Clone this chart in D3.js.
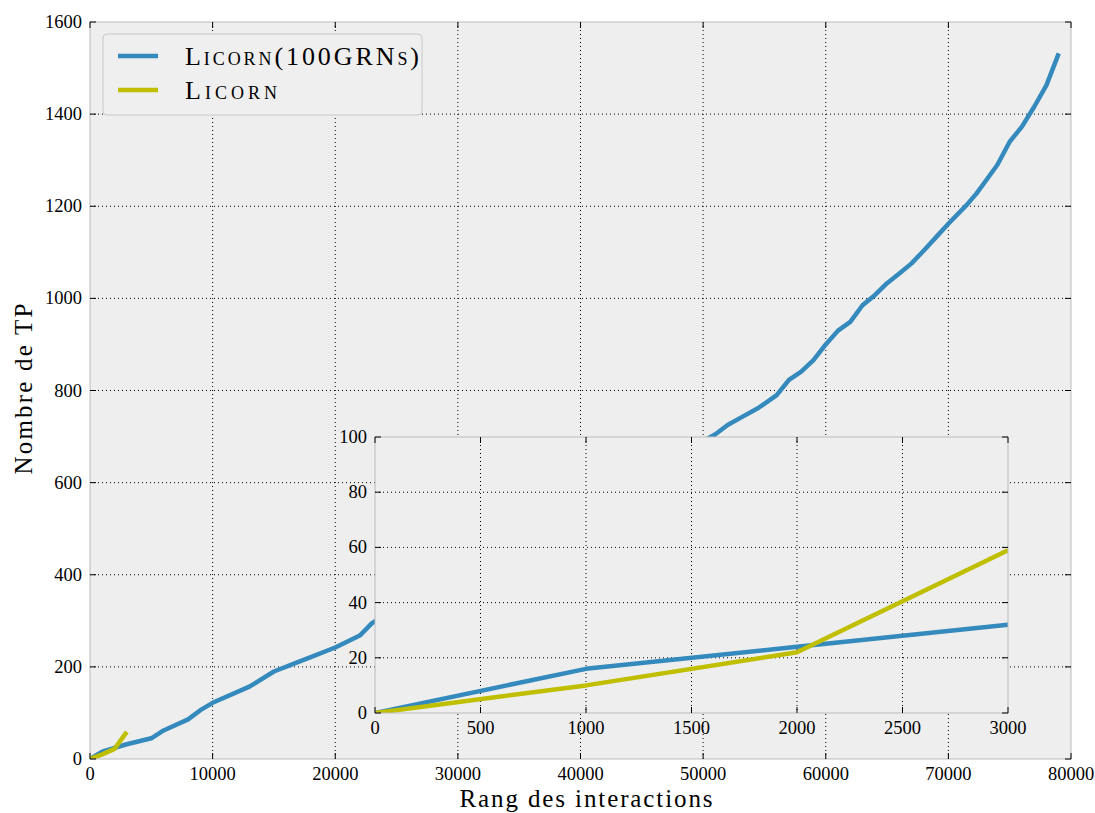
<!DOCTYPE html>
<html>
<head>
<meta charset="utf-8">
<script src="https://cdn.jsdelivr.net/npm/d3@7"></script>
<style>
  body { margin: 0; background: #fff; }
  text { font-family: "Liberation Serif", "DejaVu Serif", serif; fill: #000; }
</style>
</head>
<body>
<div id="chart"></div>
<script>
// Licorn(100GRNs) - rank of interaction vs true positives
const blueX = [0, 1000, 2000, 3000, 5000, 6000, 8000, 9000, 10000, 13000, 15000, 17000, 18000, 20000, 22000, 23000,
  30000, 40000, 50000, 51000, 52000, 53000, 54500, 56000, 57000, 58000, 59000, 60000, 61000, 62000, 63000, 64000,
  65000, 66000, 67000, 68000, 69000, 70000, 71500, 72300, 73100, 74000, 75000, 76000, 77000, 78000, 79000];
const blueY = [0, 16, 24, 32, 45, 62, 86, 106, 122, 157, 190, 211, 221, 242, 268, 295,
  410, 550, 690, 705, 725, 740, 762, 790, 823, 841, 866, 900, 930, 949, 985, 1007,
  1033, 1054, 1076, 1104, 1133, 1162, 1203, 1228, 1257, 1290, 1340, 1373, 1416, 1463, 1532];
// Licorn
const yellowX = [0, 1000, 2000, 3000];
const yellowY = [0, 10, 22, 59];

const mainXTicks = [0, 10000, 20000, 30000, 40000, 50000, 60000, 70000, 80000];
const mainYTicks = [0, 200, 400, 600, 800, 1000, 1200, 1400, 1600];
const insetXTicks = [0, 500, 1000, 1500, 2000, 2500, 3000];
const insetYTicks = [0, 20, 40, 60, 80, 100];

const seriesNames = ["Licorn(100GRNs)", "Licorn"];
const seriesColors = ["#348abd", "#bfbf00"];
const legendWidths = [234, 92];

const W = 1095, H = 813;
const svg = d3.select("#chart").append("svg").attr("width", W).attr("height", H);

const blue = blueX.map((x, i) => [x, blueY[i]]);
const yellow = yellowX.map((x, i) => [x, yellowY[i]]);

function panel(g, x, y, xTicks, yTicks) {
  const [x0, x1] = x.range(), [y1, y0] = y.range();
  g.append("rect").attr("x", x0).attr("y", y0).attr("width", x1 - x0).attr("height", y1 - y0)
    .attr("fill", "#eeeeee");
  // dotted grid
  g.append("g").selectAll("line").data(xTicks.slice(1, -1)).join("line")
    .attr("x1", d => x(d)).attr("x2", d => x(d)).attr("y1", y0).attr("y2", y1)
    .attr("stroke", "#000").attr("stroke-dasharray", "1,3").attr("stroke-width", 1);
  g.append("g").selectAll("line").data(yTicks.slice(1, -1)).join("line")
    .attr("y1", d => y(d)).attr("y2", d => y(d)).attr("x1", x0).attr("x2", x1)
    .attr("stroke", "#000").attr("stroke-dasharray", "1,3").attr("stroke-width", 1);
}

function frame(g, x, y, xTicks, yTicks) {
  const [x0, x1] = x.range(), [y1, y0] = y.range();
  g.append("rect").attr("x", x0).attr("y", y0).attr("width", x1 - x0).attr("height", y1 - y0)
    .attr("fill", "none").attr("stroke", "#bcbcbc").attr("stroke-width", 1);
  const t = 6;
  const tk = g.append("g").attr("stroke", "#000").attr("stroke-width", 1);
  xTicks.forEach(d => {
    tk.append("line").attr("x1", x(d)).attr("x2", x(d)).attr("y1", y1).attr("y2", y1 - t);
    tk.append("line").attr("x1", x(d)).attr("x2", x(d)).attr("y1", y0).attr("y2", y0 + t);
  });
  yTicks.forEach(d => {
    tk.append("line").attr("y1", y(d)).attr("y2", y(d)).attr("x1", x0).attr("x2", x0 + t);
    tk.append("line").attr("y1", y(d)).attr("y2", y(d)).attr("x1", x1).attr("x2", x1 - t);
  });
  g.append("g").selectAll("text").data(xTicks).join("text")
    .attr("x", d => x(d)).attr("y", y1 + 21).attr("text-anchor", "middle")
    .attr("font-size", 18.5).text(d => d);
  g.append("g").selectAll("text").data(yTicks).join("text")
    .attr("x", x0 - 8).attr("y", d => y(d) + 6).attr("text-anchor", "end")
    .attr("font-size", 18.5).text(d => d);
}

function lines(g, x, y, clipId) {
  const line = d3.line().x(d => x(d[0])).y(d => y(d[1]));
  const [x0, x1] = x.range(), [y1, y0] = y.range();
  svg.append("clipPath").attr("id", clipId).append("rect")
    .attr("x", x0).attr("y", y0).attr("width", x1 - x0).attr("height", y1 - y0);
  const lg = g.append("g").attr("clip-path", `url(#${clipId})`);
  [blue, yellow].forEach((s, i) => {
    lg.append("path").datum(s).attr("d", line).attr("fill", "none")
      .attr("stroke", seriesColors[i]).attr("stroke-width", 4.5).attr("stroke-linejoin", "round");
  });
}

// main axes
const x = d3.scaleLinear().domain([0, 80000]).range([90, 1071]);
const y = d3.scaleLinear().domain([0, 1600]).range([759, 22]);
const gm = svg.append("g");
panel(gm, x, y, mainXTicks, mainYTicks);
lines(gm, x, y, "clipMain");
frame(gm, x, y, mainXTicks, mainYTicks);

svg.append("text").attr("x", 586).attr("y", 807).attr("text-anchor", "middle")
  .attr("font-size", 25).attr("textLength", 253).attr("lengthAdjust", "spacing")
  .text("Rang des interactions");
svg.append("text").attr("transform", "translate(32,389) rotate(-90)")
  .attr("text-anchor", "middle").attr("font-size", 25)
  .attr("textLength", 171).attr("lengthAdjust", "spacing").text("Nombre de TP");

// legend
const leg = svg.append("g");
leg.append("rect").attr("x", 103).attr("y", 34).attr("width", 319).attr("height", 81).attr("rx", 4)
  .attr("fill", "#efefef").attr("stroke", "#c8c8c8");
seriesNames.forEach((n, i) => {
  const yy = 56 + i * 34;
  leg.append("line").attr("x1", 118).attr("x2", 158).attr("y1", yy).attr("y2", yy)
    .attr("stroke", seriesColors[i]).attr("stroke-width", 4.5);
  leg.append("text").attr("x", 185).attr("y", yy + 9).attr("font-size", 26)
    .attr("textLength", legendWidths[i]).attr("lengthAdjust", "spacing")
    .style("font-variant", "small-caps").text(n);
});

// inset
const xi = d3.scaleLinear().domain([0, 3000]).range([375, 1008]);
const yi = d3.scaleLinear().domain([0, 100]).range([713, 437]);
const gi = svg.append("g");
panel(gi, xi, yi, insetXTicks, insetYTicks);
lines(gi, xi, yi, "clipInset");
frame(gi, xi, yi, insetXTicks, insetYTicks);
</script>
</body>
</html>
